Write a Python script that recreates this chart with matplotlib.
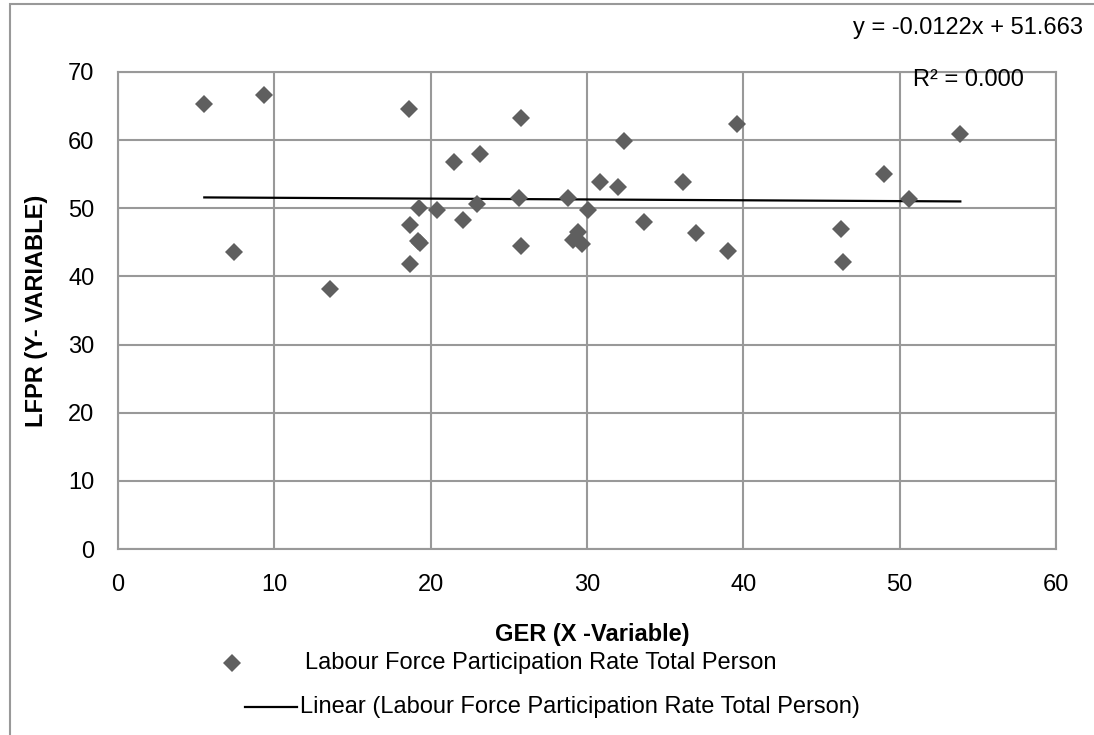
import matplotlib
matplotlib.use("Agg")
import matplotlib.pyplot as plt
from matplotlib.lines import Line2D
from matplotlib.patches import Rectangle
import numpy as np

plt.rcParams['font.family'] = ['Liberation Sans', 'DejaVu Sans']

# GER (x) vs LFPR (y)
ger = [5.52, 9.32, 18.59, 21.5, 23.18, 19.28, 20.38, 22.97, 22.09, 18.69,
       19.16, 19.3, 7.42, 18.69, 13.59,
       25.78, 39.57, 53.88, 32.36, 48.97, 30.84, 31.98, 36.17, 25.66, 28.76,
       50.58, 30.05, 33.67, 46.27, 36.97, 29.45, 29.13, 29.70, 25.78, 39.05, 46.36]
lfpr = [65.29, 66.67, 64.56, 56.76, 57.94, 50.1, 49.8, 50.64, 48.28, 47.55,
        45.2, 44.95, 43.63, 41.76, 38.14,
        63.24, 62.41, 60.93, 59.9, 55.09, 53.9, 53.12, 53.9, 51.55, 51.55,
        51.4, 49.73, 47.96, 46.98, 46.34, 46.54, 45.41, 44.77, 44.42, 43.73, 42.06]

# trendline as reported on the chart
slope = -0.0122
intercept = 51.663
series_name = 'Labour Force Participation Rate Total Person'

fs = 17

fig = plt.figure(figsize=(10.94, 7.35), dpi=100)
ax = fig.add_axes([118/1094, 1 - 549/735, (1056-118)/1094, (549-72)/735])

grid_c = '#999999'
ax.set_xlim(0, 60)
ax.set_ylim(0, 70)
ax.set_xticks(np.arange(0, 61, 10))
ax.set_yticks(np.arange(0, 71, 10))
ax.grid(True, color=grid_c, linewidth=1.5)
ax.set_axisbelow(True)
for s in ax.spines.values():
    s.set_color(grid_c)
    s.set_linewidth(1.5)
ax.tick_params(length=0, labelsize=fs, colors='black')
ax.tick_params(axis='y', pad=17)
ax.tick_params(axis='x', pad=18)

xs = np.array([min(ger), max(ger)])
ax.plot(xs, slope * xs + intercept, color='black', linewidth=1.6, zorder=2)
ax.plot(ger, lfpr, linestyle='none', marker='D', markersize=9.5,
        color='#5f5f5f', markeredgewidth=0, zorder=3)

fig.text(37/1094, 1 - 311/735, 'LFPR (Y- VARIABLE)', fontsize=fs,
         fontweight='bold', rotation=90, ha='center', va='center')
fig.text(592/1094, 1 - 634/735, 'GER (X -Variable)', fontsize=fs,
         fontweight='bold', ha='center', va='center')

fig.text(1083/1094, 1 - 28/735, 'y = -0.0122x + 51.663', fontsize=fs,
         ha='right', va='center')
fig.text(913/1094, 1 - 80/735, 'R\u00b2 = 0.000', fontsize=fs,
         ha='left', va='center')

# legend, drawn by hand to follow the original layout
fig.add_artist(Line2D([232/1094], [1 - 663/735], marker='D', markersize=9.5,
                      color='#5f5f5f', markeredgewidth=0, linestyle='none'))
fig.text(305/1094, 1 - 663/735, series_name, fontsize=fs, va='center')
fig.add_artist(Line2D([245/1094, 297/1094], [1 - 707/735, 1 - 707/735],
                      color='black', linewidth=1.6))
fig.text(300/1094, 1 - 707/735, 'Linear (' + series_name + ')', fontsize=fs,
         va='center')

# outer chart frame
fig.add_artist(Rectangle((10/1094, -0.1), 1.2, 1 - 4/735 + 0.1,
                         transform=fig.transFigure, fill=False,
                         edgecolor='#999999', linewidth=1.5))

fig.savefig('out.png', dpi=100)
